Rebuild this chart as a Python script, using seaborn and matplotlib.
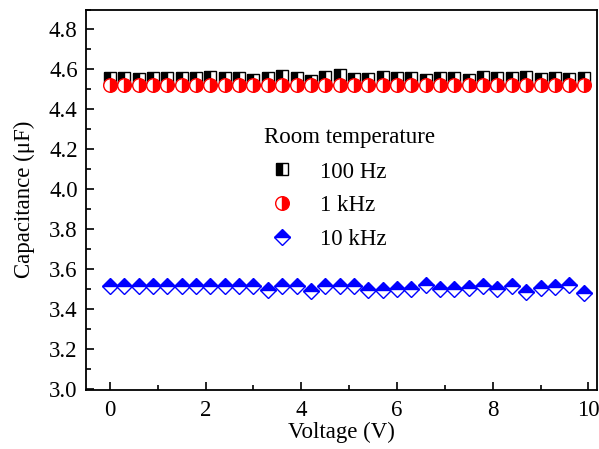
import numpy as np
import pandas as pd
import matplotlib
matplotlib.use("Agg")
import matplotlib.pyplot as plt
import seaborn as sns
from matplotlib.ticker import MultipleLocator

voltage = [round(0.3 * i, 1) for i in range(34)]
cap_100hz = [4.556, 4.556, 4.554, 4.556, 4.556, 4.559, 4.556, 4.564, 4.556, 4.559,
             4.549, 4.559, 4.568, 4.558, 4.544, 4.563, 4.571, 4.554, 4.551, 4.561,
             4.556, 4.556, 4.549, 4.558, 4.556, 4.546, 4.563, 4.559, 4.558, 4.564,
             4.554, 4.559, 4.554, 4.556]
cap_1khz = [4.520] * 34
cap_10khz = [3.515, 3.515, 3.515, 3.515, 3.515, 3.515, 3.515, 3.515, 3.515, 3.515,
             3.515, 3.495, 3.515, 3.515, 3.490, 3.515, 3.515, 3.515, 3.498, 3.498,
             3.502, 3.502, 3.520, 3.502, 3.502, 3.507, 3.515, 3.502, 3.515, 3.487,
             3.507, 3.512, 3.520, 3.482]
labels = ["100 Hz", "1 kHz", "10 kHz"]
legend_title = "Room temperature"

FS = 16.5

sns.set_style("ticks", {"axes.edgecolor": "black", "text.color": "black",
                        "axes.labelcolor": "black", "xtick.color": "black",
                        "ytick.color": "black"})
plt.rcParams['font.family'] = ['Liberation Serif', 'DejaVu Serif']

fig = plt.figure(figsize=(5.99, 4.49), dpi=100)
ax = fig.add_axes([86/599, 1 - 390/449, (597 - 86)/599, (390 - 9.5)/449])

df = pd.DataFrame({"V": voltage, "a": cap_100hz, "b": cap_1khz, "c": cap_10khz})

sns.lineplot(data=df, x="V", y="a", ax=ax, linestyle='', marker='s', markersize=9,
             fillstyle='left', markerfacecolor='black', markerfacecoloralt='white',
             markeredgecolor='black', markeredgewidth=1.0, color='black', label=labels[0])
sns.lineplot(data=df, x="V", y="b", ax=ax, linestyle='', marker='o', markersize=9.8,
             fillstyle='right', markerfacecolor='red', markerfacecoloralt='white',
             markeredgecolor='red', markeredgewidth=1.0, color='red', label=labels[1])
sns.lineplot(data=df, x="V", y="c", ax=ax, linestyle='', marker='D', markersize=8.3,
             fillstyle='top', markerfacecolor='blue', markerfacecoloralt='white',
             markeredgecolor='blue', markeredgewidth=1.0, color='blue', label=labels[2])

ax.set_xlim(-0.5, 10.18)
ax.set_ylim(2.995, 4.9)
ax.xaxis.set_major_locator(MultipleLocator(2))
ax.xaxis.set_minor_locator(MultipleLocator(1))
ax.yaxis.set_major_locator(MultipleLocator(0.2))
ax.yaxis.set_minor_locator(MultipleLocator(0.1))
ax.yaxis.set_major_formatter(matplotlib.ticker.FormatStrFormatter('%.1f'))
ax.tick_params(which='both', direction='in', top=False, right=False, labelsize=FS,
               width=1.2, colors='black')
ax.tick_params(axis='y', which='major', pad=6)
ax.tick_params(axis='x', which='major', pad=7)
ax.tick_params(which='major', length=6)
ax.tick_params(which='minor', length=3.5)
for s in ax.spines.values():
    s.set_linewidth(1.3)
    s.set_color('black')
    s.set_visible(True)

ax.set_xlabel("Voltage (V)", fontsize=FS, labelpad=1, color='black')
ax.set_ylabel("Capacitance (μF)", fontsize=FS, labelpad=10, color='black')

t = ax.text(0, 0, legend_title, fontsize=FS, ha='center', va='center', color='black',
            transform=matplotlib.transforms.IdentityTransform())
t.set_position((349, 449 - 138))

leg = ax.legend(loc='upper left', bbox_to_anchor=(248/599, 1 - 150/449),
                bbox_transform=fig.transFigure, frameon=False, fontsize=FS,
                handletextpad=0.65, labelspacing=0.55, handlelength=2.0, borderpad=0,
                labelcolor='black')

fig.savefig("out.png", dpi=100)
